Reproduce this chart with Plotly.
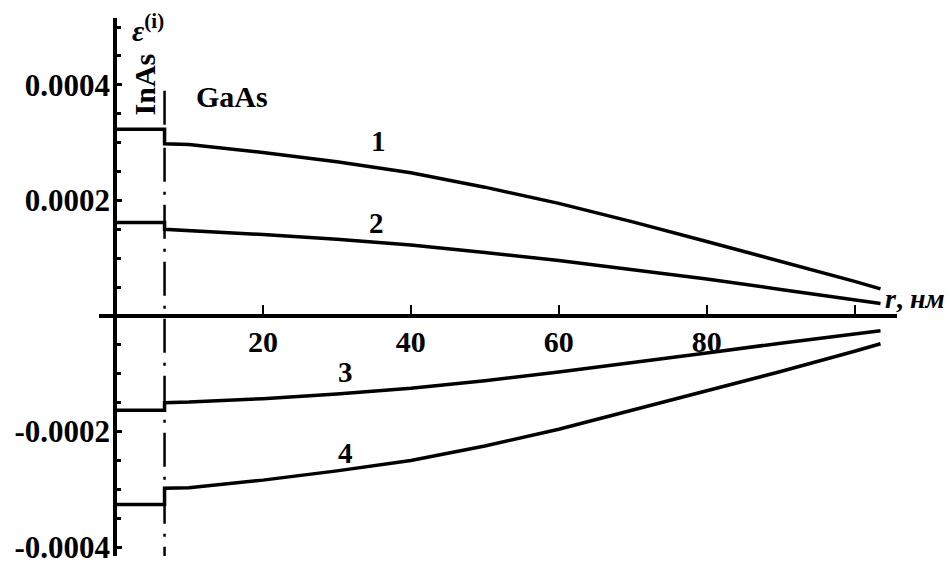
import plotly.graph_objects as go

# Radial coordinate (nm): InAs dot interior and GaAs matrix
R_INAS = [0.0, 6.7]
R_GAAS = [6.7, 10, 20, 30, 40, 50, 60, 70, 80, 90, 100, 103.5]
R_BOUNDARY = 6.7

# Strain inside the dot (constant) for curves 1..4
INAS_LEVEL = [0.000323, 0.000162, -0.000163, -0.000326]

# Strain in the matrix for curves 1..4
GAAS_1 = [0.000298, 0.000297, 0.000283, 0.000267, 0.000248, 0.000223,
          0.000195, 0.000163, 0.000129, 0.000095, 0.000060, 0.000047]
GAAS_2 = [0.000150, 0.000148, 0.000141, 0.000133, 0.000123, 0.000110,
          0.000096, 0.000080, 0.000064, 0.000046, 0.000028, 0.0000216]
GAAS_3 = [-0.000150, -0.000149, -0.000143, -0.000135, -0.000125, -0.000112,
          -0.000097, -0.000081, -0.000064, -0.000047, -0.000031, -0.0000255]
GAAS_4 = [-0.000298, -0.000297, -0.000284, -0.000268, -0.000250, -0.000225,
          -0.000196, -0.000163, -0.000129, -0.000096, -0.000061, -0.000048]
GAAS = [GAAS_1, GAAS_2, GAAS_3, GAAS_4]

CURVE_LABELS = ["1", "2", "3", "4"]
LABEL_R = [35.6, 35.4, 31.2, 31.2]
LABEL_Y = [0.000303, 0.0001617, -0.000097, -0.0002366]

X_TICKS = [20, 40, 60, 80, 100]
X_TICK_TEXT = ["20", "40", "60", "80", " "]
Y_TICKS = [0.0004, 0.0002, -0.0002, -0.0004]
Y_TICK_TEXT = ["0.0004", "0.0002", "-0.0002", "-0.0004"]

X_RANGE = [-2.163, 105.73]
Y_RANGE = [-0.00041532, 0.00051574]

FONT = "Liberation Serif"
INK = "black"


def bold(s):
    return "<b>" + s + "</b>"


fig = go.Figure()

# Interface between InAs and GaAs
fig.add_trace(go.Scatter(
    x=[R_BOUNDARY, R_BOUNDARY], y=[0.00039, Y_RANGE[0]],
    mode="lines", line=dict(color=INK, width=2.5, dash="34px,10px,3px,10px"),
    hoverinfo="skip", showlegend=False))

for lvl, gaas in zip(INAS_LEVEL, GAAS):
    xs = R_INAS + R_GAAS
    ys = [lvl, lvl] + gaas
    fig.add_trace(go.Scatter(x=xs, y=ys, mode="lines",
                             line=dict(color=INK, width=3.5),
                             showlegend=False))

ann_font = dict(family=FONT, size=29, color=INK)
for txt, rx, ry in zip(CURVE_LABELS, LABEL_R, LABEL_Y):
    fig.add_annotation(x=rx, y=ry, text=bold(txt), showarrow=False, font=ann_font)

fig.add_annotation(x=15.8, y=0.00038, text=bold("GaAs"), showarrow=False,
                   font=dict(family=FONT, size=30, color=INK))
fig.add_annotation(x=4.0, y=0.0004, text=bold("InAs"), showarrow=False, textangle=-90,
                   font=dict(family=FONT, size=30, color=INK))
fig.add_annotation(x=2.0, y=0.000499, text="<b><i>ε</i><sup>(i)</sup></b>", showarrow=False,
                   xanchor="left", font=dict(family=FONT, size=30, color=INK))
fig.add_annotation(x=103.8, y=0.0000300, text="<b><i>r</i>, <i>нм</i></b>", showarrow=False,
                   xanchor="left", font=dict(family=FONT, size=28, color=INK))

x_pos = (0 - Y_RANGE[0]) / (Y_RANGE[1] - Y_RANGE[0])
y_pos = (0 - X_RANGE[0]) / (X_RANGE[1] - X_RANGE[0])

fig.update_layout(
    width=950, height=565,
    margin=dict(l=99, r=53, t=18, b=0),
    paper_bgcolor="white", plot_bgcolor="white",
    xaxis=dict(range=X_RANGE, domain=[0, 1], anchor="free", position=x_pos,
               showgrid=False, zeroline=False, showline=True, linecolor=INK, linewidth=3.5,
               ticks="inside", ticklen=9, tickwidth=1.8, tickcolor=INK,
               tickvals=X_TICKS, ticktext=[bold(t) for t in X_TICK_TEXT], ticklabelstandoff=-2,
               ticklabeloverflow="allow",
               tickfont=dict(family=FONT, size=30, color=INK)),
    yaxis=dict(range=Y_RANGE, domain=[0, 1], anchor="free", position=y_pos,
               showgrid=False, zeroline=False, showline=True, linecolor=INK, linewidth=3.5,
               ticks="inside", ticklen=5, tickwidth=2.5, tickcolor=INK,
               tickvals=Y_TICKS, ticktext=[bold(t) for t in Y_TICK_TEXT], ticklabelstandoff=-3,
               ticklabeloverflow="allow",
               tickfont=dict(family=FONT, size=31, color=INK),
               minor=dict(tickmode="linear", tick0=0, dtick=0.00005, ticks="inside",
                          ticklen=4, tickwidth=2.5, tickcolor=INK, showgrid=False)),
)

fig.write_html("out.html")
